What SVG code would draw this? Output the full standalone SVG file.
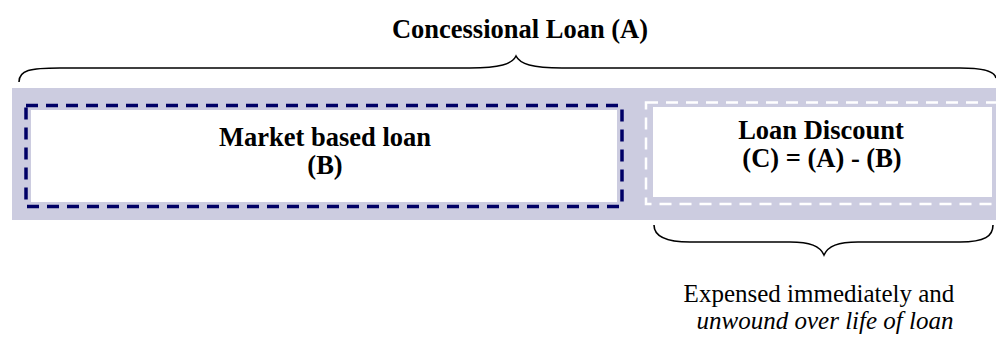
<svg xmlns="http://www.w3.org/2000/svg" width="996" height="338" viewBox="0 0 996 338">
<style>
.b{font-family:"Liberation Serif","Times New Roman",serif;font-weight:bold;font-size:26.5px;fill:#000;text-anchor:middle}
.r{font-family:"Liberation Serif","Times New Roman",serif;font-size:25px;fill:#000;text-anchor:middle}
.brace{fill:none;stroke:#000;stroke-width:1.6}
</style>
<rect x="12" y="88" width="984" height="132" fill="#CCCCE0"/>
<g id="market">
<rect x="31" y="110" width="586" height="92" fill="#fff"/>
<rect x="26" y="105.5" width="596" height="101" fill="none" stroke="#000066" stroke-width="3.5" stroke-dasharray="12,8"/>
<text class="b" x="325" y="146">Market based loan</text>
<text class="b" x="325" y="174">(B)</text>
</g>
<g id="discount">
<rect x="653" y="107" width="339" height="90" fill="#fff"/>
<rect x="646" y="102.5" width="352" height="101.5" fill="none" stroke="#fff" stroke-width="2.5" stroke-dasharray="12,8"/>
<text class="b" x="821" y="139">Loan Discount</text>
<text class="b" x="822" y="167">(C) = (A) - (B)</text>
</g>
<g id="connectors">
<path class="brace" d="M19,82 C19,70 30,68 60,68 L470,68 C500,68 512,64 516,56 C520,64 532,68 562,68 L960,68 C985,68 995,72 996,78"/>
<path class="brace" d="M654,225 C654,236 665,242 690,242 L790,242 C810,242 820,246 824,255 C828,246 838,242 858,242 L960,242 C985,242 993,236 993,225"/>
</g>
<g id="labels">
<text class="b" x="520" y="38">Concessional Loan (A)</text>
<text class="r" x="819" y="302">Expensed immediately and</text>
<text class="r" x="825" y="329" font-style="italic" font-size="25.5px">unwound over life of loan</text>
</g>
</svg>
